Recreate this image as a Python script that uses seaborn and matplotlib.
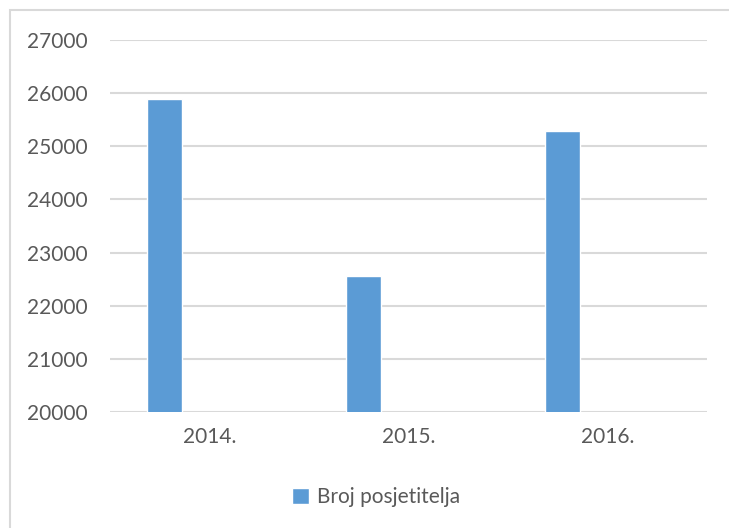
import numpy as np
import pandas as pd
import matplotlib.pyplot as plt
import seaborn as sns
from matplotlib.patches import Rectangle

years = ["2014.", "2015.", "2016."]
visitors = [25890, 22550, 25290]
series_name = "Broj posjetitelja"

df = pd.DataFrame({"year": years, "visitors": visitors})

sns.set_theme(style="white")
plt.rcParams["font.family"] = ["Lato", "DejaVu Sans"]

W, H = 729, 528
fig = plt.figure(figsize=(W / 100, H / 100), dpi=100)
ax = fig.add_axes([110 / W, 1 - 412 / H, (707 - 110) / W, (412 - 40) / H])

bar_w = 0.175
shift = -0.225
sns.barplot(data=df, x="year", y="visitors", color="#5B9BD5", saturation=1,
            width=bar_w, ax=ax, label=series_name, zorder=3)
for p in ax.patches:
    p.set_x(p.get_x() + shift)

ax.set_ylim(20000, 27000)
ax.set_xlim(-0.5, 2.5)
ax.set_yticks(np.arange(20000, 27001, 1000))
ax.yaxis.grid(True, color="#D9D9D9", linewidth=1.5, zorder=0)
ax.set_axisbelow(True)
for s in ax.spines.values():
    s.set_visible(False)
ax.set_xlabel("")
ax.set_ylabel("")
ax.tick_params(axis="both", length=0, labelsize=15, labelcolor="#595959")
ax.tick_params(axis="y", pad=16)
ax.tick_params(axis="x", pad=11)

ax.legend(loc="center", bbox_to_anchor=(376 / W, 1 - 497 / H),
          bbox_transform=fig.transFigure, frameon=False, fontsize=15,
          labelcolor="#595959", handlelength=0.8, handleheight=0.8,
          handletextpad=0.4)

fig.patches.append(Rectangle((10 / W, -0.1), 1.2, 1.1 - 10 / H,
                             transform=fig.transFigure, fill=False,
                             edgecolor="#D9D9D9", linewidth=1.5))

fig.savefig("out.png", dpi=100, facecolor="white")
